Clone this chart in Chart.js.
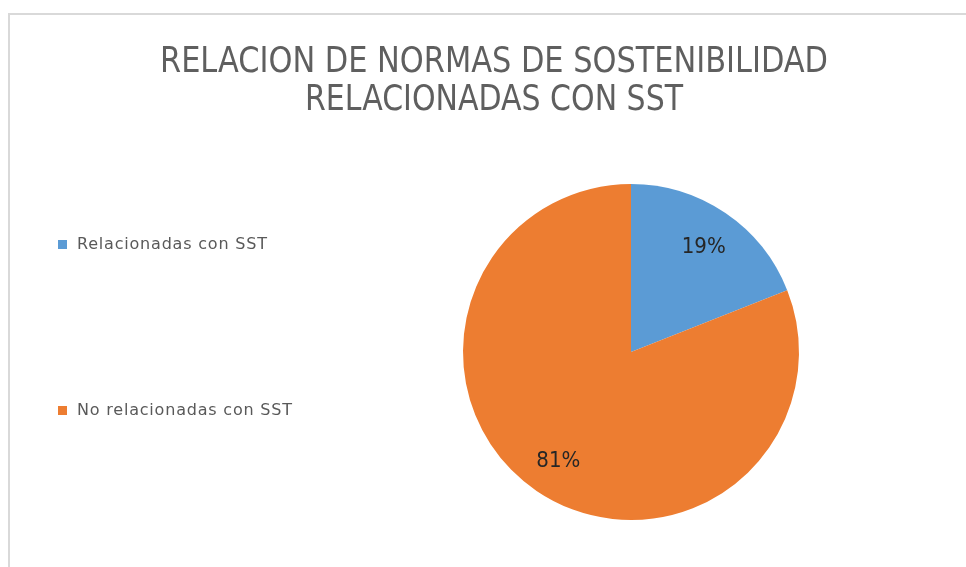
<!DOCTYPE html>
<html>
<head>
<meta charset="utf-8">
<script src="https://cdn.jsdelivr.net/npm/chart.js@4.4.1/dist/chart.umd.min.js"></script>
<style>
  html, body { margin: 0; padding: 0; background: #fff; }
  #marco {
    position: absolute; left: 8px; top: 13px; width: 960px; height: 560px;
    border-top: 2px solid #d9d9d9; border-left: 2px solid #d9d9d9;
  }
  #caja { position: absolute; left: 0; top: 0; width: 966px; height: 567px; }
</style>
</head>
<body>
<div id="marco"></div>
<div id="caja"><canvas id="torta"></canvas></div>
<script>
// titulo en dos lineas
const titulo = ['RELACION DE NORMAS DE SOSTENIBILIDAD', 'RELACIONADAS CON SST'];
// categorias y valores (%)
const categorias = ['Relacionadas con SST', 'No relacionadas con SST'];
const valores = [19, 81];
const colores = ['#5B9BD5', '#ED7D31'];

// dibuja titulo, leyenda a la izquierda y etiquetas de porcentaje
const textos = {
  id: 'textos',
  afterDraw(chart) {
    const ctx = chart.ctx;
    ctx.save();
    // titulo (se comprime al ancho del original)
    ctx.fillStyle = '#5f5f5f';
    ctx.textAlign = 'center';
    ctx.textBaseline = 'alphabetic';
    ctx.font = '36px "DejaVu Sans Condensed", "Liberation Sans Narrow", sans-serif';
    ctx.fillText(titulo[0], 494, 72, 668);
    ctx.fillText(titulo[1], 494, 110, 378);

    // leyenda
    const filas = [245, 411];
    ctx.textAlign = 'left';
    ctx.textBaseline = 'middle';
    ctx.font = '16px "DejaVu Sans", sans-serif';
    ctx.letterSpacing = '0.8px';
    categorias.forEach((c, i) => {
      ctx.fillStyle = colores[i];
      ctx.fillRect(58, filas[i] - 5, 9, 9);
      ctx.fillStyle = '#595959';
      ctx.fillText(c, 77, filas[i]);
    });
    ctx.letterSpacing = '0px';

    // porcentajes dentro de cada sector
    const meta = chart.getDatasetMeta(0);
    const total = valores.reduce((a, b) => a + b, 0);
    ctx.textAlign = 'center';
    ctx.textBaseline = 'alphabetic';
    ctx.fillStyle = '#262626';
    ctx.font = '22px "DejaVu Sans Condensed", sans-serif';
    meta.data.forEach((arc, i) => {
      const p = arc.getProps(['x', 'y', 'startAngle', 'endAngle', 'outerRadius'], true);
      const a = (p.startAngle + p.endAngle) / 2;
      const r = p.outerRadius * 0.77;
      const pct = Math.round(valores[i] / total * 100) + '%';
      ctx.fillText(pct, p.x + Math.cos(a) * r, p.y + Math.sin(a) * r + 8);
    });
    ctx.restore();
  }
};

new Chart(document.getElementById('torta'), {
  type: 'pie',
  data: {
    labels: categorias,
    datasets: [{
      data: valores,
      backgroundColor: colores,
      borderWidth: 0
    }]
  },
  options: {
    responsive: true,
    maintainAspectRatio: false,
    animation: false,
    layout: { padding: { left: 463, right: 167, top: 184, bottom: 47 } },
    plugins: {
      legend: { display: false },
      title: { display: false },
      tooltip: { enabled: false }
    }
  },
  plugins: [textos]
});
</script>
</body>
</html>
